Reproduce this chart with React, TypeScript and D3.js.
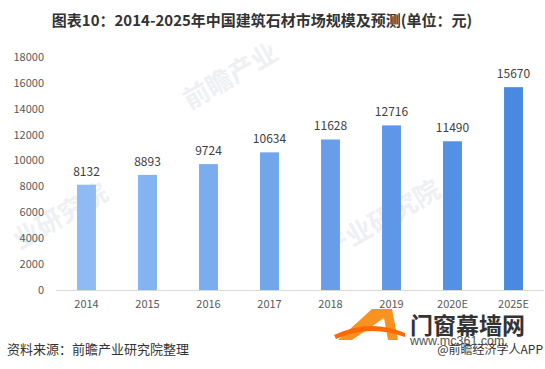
import React from 'react';
import * as d3 from 'd3';

const years = ['2014', '2015', '2016', '2017', '2018', '2019', '2020E', '2025E'];
const marketSize = [8132, 8893, 9724, 10634, 11628, 12716, 11490, 15670];
const yTicks = [0, 2000, 4000, 6000, 8000, 10000, 12000, 14000, 16000, 18000];

const W = 545;
const H = 369;
const font = '"Microsoft YaHei", "Noto Sans CJK SC", "Noto Sans", sans-serif';

export default function App() {
  const x = d3.scaleBand().domain(years).range([56, 544]).paddingInner(0.69).paddingOuter(0.345);
  const y = d3.scaleLinear().domain([0, 18000]).range([290, 57]);
  const color = d3.interpolateRgb('#8fbaf3', '#4a89e2');

  return (
    <svg width={W} height={H} style={{ position: 'absolute', left: 0, top: 0, background: '#fff' }} fontFamily={font}>
      {/* faint watermarks */}
      <g fill="#eef0f3" fontSize={26} fontWeight="bold">
        <text transform="translate(190,110) rotate(-30)">前瞻产业</text>
        <text transform="translate(20,250) rotate(-30)">业研究院</text>
        <text transform="translate(330,260) rotate(-30)">产业研究院</text>
      </g>
      <text x={262} y={26} textAnchor="middle" fontSize={15} fontWeight="bold" fill="#333">
        图表10：2014-2025年中国建筑石材市场规模及预测(单位：元)
      </text>
      {yTicks.map(t => (
        <text key={t} x={44} y={y(t)} dy="0.35em" textAnchor="end" fontSize={11} fill="#595959">{t}</text>
      ))}
      <line x1={56} x2={544} y1={290.5} y2={290.5} stroke="#d9d9d9" />
      {years.map((yr, i) => (
        <g key={yr}>
          <rect x={x(yr)} y={y(marketSize[i])} width={x.bandwidth()} height={290 - y(marketSize[i])}
            fill={color(i / (years.length - 1))} />
          <text x={(x(yr) as number) + x.bandwidth() / 2} y={y(marketSize[i]) - 9} textAnchor="middle" fontSize={12} fill="#404040">
            {marketSize[i]}
          </text>
          <text x={(x(yr) as number) + x.bandwidth() / 2} y={308} textAnchor="middle" fontSize={11} fill="#595959">{yr}</text>
        </g>
      ))}
      {/* logo watermark */}
      <g>
        <path d="M338,340 L372,309 L392,309 L398,340 L388,340 L384,318 L352,340 Z" fill="#f7931e" />
        <path d="M334,335 Q370,318 405,333 L405,337 Q370,324 336,339 Z" fill="#ff6a00" />
        <text x={410} y={334} fontSize={23} fontWeight="bold" fill="#333">门窗幕墙网</text>
        <text x={410} y={345} fontSize={12.5} fill="#555" fontFamily='"Liberation Sans", sans-serif'>www.mc361.com</text>
      </g>
      <text x={7} y={354} fontSize={13} fill="#333">资料来源：前瞻产业研究院整理</text>
      <text x={543} y={354} textAnchor="end" fontSize={12} fill="#333">@前瞻经济学人APP</text>
    </svg>
  );
}
